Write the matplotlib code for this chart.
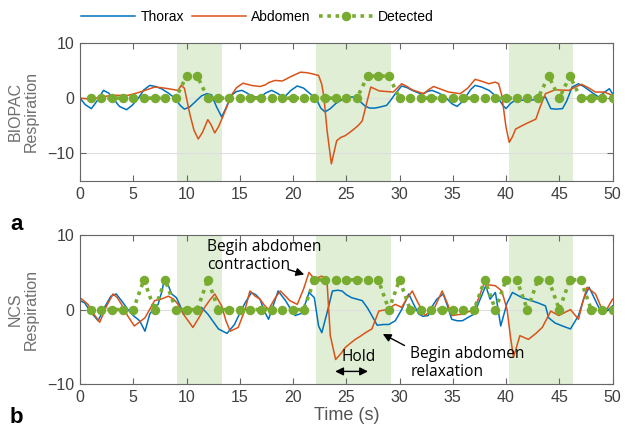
import matplotlib
matplotlib.use('Agg')
import matplotlib.pyplot as plt
import numpy as np

# colours (MATLAB-like defaults)
c_thorax = '#0072BD'
c_abdomen = '#D95319'
c_detect = '#77AC30'
c_span = '#e0eed6'

# breath-hold windows (s)
hold_windows = [(9.1, 13.3), (22.15, 29.2), (40.3, 46.3)]

# BIOPAC: thorax
biopac_thorax_t = [0.0, 0.5, 1.07, 1.6, 2.2, 2.7, 3.1, 3.7, 4.36, 4.9, 5.45, 6.0, 6.55, 7.1, 7.65, 8.3,
                   8.9, 9.4, 9.8, 10.3, 10.8, 11.4, 11.9, 12.35, 12.8, 13.3, 13.7, 14.2, 14.7, 15.2,
                   15.6, 16.0, 16.5, 16.9, 17.5, 18.0, 18.6, 19.1, 19.8, 20.4, 21.0, 21.6, 22.2, 22.6,
                   23.0, 23.5, 24.0, 24.5, 24.9, 25.4, 25.85, 26.3, 26.8, 27.2, 27.7, 28.2, 28.8, 29.2,
                   29.6, 30.2, 30.7, 31.2, 31.7, 32.1, 32.6, 33.05, 33.7, 34.3, 34.9, 35.4, 35.8, 36.2,
                   36.7, 37.1, 37.7, 38.4, 38.9, 39.3, 39.7, 40.0, 40.4, 40.9, 41.8, 42.8, 43.3, 43.7,
                   44.2, 44.7, 45.3, 45.7, 46.2, 46.8, 47.3, 47.8, 48.3, 48.7, 49.2, 49.7, 50.0]
biopac_thorax_v = [0.0, -1.2, -1.9, -0.5, 1.4, 0.9, 0.0, -1.5, -2.1, -1.3, -0.1, 1.5, 2.3, 2.1, 1.7, 0.9,
                   0.0, -1.3, -2.0, -1.6, -0.7, 0.4, 0.8, 0.6, -1.5, -3.4, -1.8, 0.5, 1.2, 1.4,
                   1.0, 0.5, 0.2, 0.2, 1.0, 1.4, 0.8, 0.0, 1.4, 2.2, 1.8, 0.8, -0.2, -1.8,
                   -2.5, -1.9, -1.0, -0.4, 0.0, 0.2, 0.2, -0.6, -1.5, -1.8, -1.8, -1.6, -1.3, -0.3,
                   0.8, 2.2, 1.9, 1.4, 1.0, 0.7, 1.2, 1.4, 0.9, 0.2, -1.0, -1.5, -0.8, 0.2,
                   1.6, 2.3, 2.0, 1.4, 0.6, -0.1, -1.3, -1.9, -1.0, -0.3, -0.4, -0.3, 0.0, 0.2,
                   -1.9, -2.0, -1.9, -0.5, 2.0, 2.6, 2.1, 1.4, 0.7, 0.2, 1.0, 1.7, 0.8]

# BIOPAC: abdomen
biopac_abd_t = [0.0, 1.07, 2.0, 3.0, 4.5, 5.3, 6.1, 7.0, 7.6, 8.3, 9.2, 9.5, 9.8, 10.0, 10.3, 10.7,
                11.1, 11.5, 12.0, 12.3, 12.65, 13.0, 13.4, 13.8, 14.2, 14.7, 15.3, 16.1, 16.9, 17.4,
                17.7, 18.3, 19.0, 19.8, 20.7, 21.3, 21.8, 22.4, 22.7, 22.9, 23.2, 23.6, 24.1, 24.5,
                24.9, 25.4, 25.85, 26.2, 26.5, 26.9, 27.3, 28.1, 29.4, 30.2, 30.7, 31.2, 31.8, 32.3,
                32.7, 33.2, 33.9, 34.6, 35.7, 36.4, 37.1, 37.8, 38.4, 39.0, 39.3, 39.6, 40.0, 40.3,
                40.6, 40.9, 41.8, 42.8, 43.2, 43.7, 44.6, 45.9, 46.5, 47.1, 47.8, 48.4, 49.2, 50.0]
biopac_abd_v = [0.0, -0.2, 0.2, 0.5, 0.5, 0.9, 1.4, 2.0, 1.9, 1.7, 1.4, 2.3, 1.8, 0.0, -2.8, -5.8,
                -7.4, -6.2, -3.9, -4.8, -6.3, -5.2, -3.4, -1.5, 0.5, 1.9, 2.7, 2.3, 2.1, 2.4,
                2.8, 3.2, 3.1, 3.9, 4.7, 4.6, 4.4, 4.1, 2.5, 0.2, -5.9, -11.9, -7.7, -7.1,
                -6.8, -6.1, -5.4, -4.8, -4.1, -1.0, 2.0, 1.3, 1.1, 2.6, 2.1, 1.5, 1.1, 0.8,
                1.5, 2.1, 1.6, 1.1, 0.8, 1.8, 3.4, 3.0, 2.6, 2.9, 2.6, 0.5, -5.3, -8.0,
                -7.0, -5.6, -4.7, -3.8, -1.6, 0.8, 1.5, 1.4, 2.0, 2.5, 1.8, 1.1, 1.1, 0.5]

# NCS: thorax
ncs_thorax_t = [0.0, 0.44, 1.0, 1.7, 2.3, 2.9, 3.4, 4.0, 4.5, 5.0, 5.6, 6.1, 6.55, 7.0, 7.33, 7.7,
                7.95, 8.3, 8.6, 9.05, 9.4, 9.7, 10.2, 10.6, 11.4, 12.0, 12.5, 13.0, 13.8, 14.5,
                15.0, 15.5, 16.1, 16.5, 16.9, 17.3, 17.7, 18.2, 18.6, 19.3, 19.8, 20.2, 20.8, 21.2,
                21.5, 22.0, 22.4, 22.7, 23.2, 23.7, 24.2, 24.6, 25.0, 25.5, 26.0, 26.5, 27.0, 27.4,
                27.9, 28.5, 29.0, 29.6, 30.2, 30.86, 31.3, 31.8, 32.2, 32.7, 33.1, 33.5, 34.1, 34.5,
                34.9, 35.4, 35.9, 36.5, 37.0, 37.6, 38.1, 38.5, 39.0, 39.5, 40.1, 40.6, 41.5, 42.4,
                43.0, 43.7, 44.0, 44.6, 45.3, 46.05, 46.8, 47.3, 47.8, 48.3, 48.7, 49.3, 50.0]
ncs_thorax_v = [1.2, 0.9, -0.3, -1.5, 0.3, 1.8, 2.1, 1.0, 0.0, -0.8, -1.5, -2.9, -0.6, 0.3, 0.7, 2.5,
                4.3, 3.2, 2.1, 1.6, 0.5, -0.6, -0.3, 0.0, 0.3, -0.6, -1.6, -2.6, -3.2, -2.0,
                -0.5, 0.9, 2.3, 2.0, 1.4, -0.2, -1.3, 0.8, 2.5, 1.2, 0.0, -0.8, -0.5, 1.0,
                2.3, 1.6, -2.2, -3.1, -0.4, 2.5, 2.6, 2.5, 2.0, 1.6, 1.4, 1.2, 0.2, -0.8,
                -2.1, -2.0, -2.0, -1.5, 0.0, 2.1, 0.8, -0.6, -0.9, -0.8, 0.5, 1.4, 2.1, 0.5,
                -1.3, -1.5, -1.5, -1.0, -0.6, 1.5, 3.2, 1.4, 2.3, -2.2, 0.9, 2.3, 1.6, 1.2,
                0.9, 0.5, -1.1, -1.8, -2.2, -2.6, -0.8, 1.5, 3.0, 1.5, 0.3, -0.4, 0.5]

# NCS: abdomen
ncs_abd_t = [0.0, 0.75, 1.3, 1.85, 2.5, 3.1, 3.5, 3.9, 4.5, 5.1, 6.1, 7.0, 7.6, 8.3, 8.8, 9.2,
             9.8, 10.6, 11.2, 11.7, 12.2, 12.65, 13.3, 13.7, 14.1, 14.85, 15.5, 15.95, 16.45, 16.9,
             17.3, 17.7, 18.3, 18.8, 19.3, 19.7, 20.4, 21.0, 21.5, 22.0, 22.7, 23.2, 23.5, 24.0,
             24.5, 24.9, 25.4, 25.85, 26.3, 26.8, 27.4, 27.7, 28.05, 28.8, 29.6, 30.2, 30.7, 31.2,
             31.7, 32.4, 33.3, 34.0, 34.5, 34.9, 35.9, 37.0, 37.5, 37.9, 38.5, 39.0, 39.6, 40.1,
             40.4, 40.7, 41.3, 42.1, 42.8, 43.4, 44.2, 44.95, 45.5, 46.05, 46.8, 47.2, 47.6, 48.4,
             49.2, 50.0]
ncs_abd_v = [1.6, 0.7, -0.6, -1.7, 0.5, 2.1, 1.6, 0.7, -0.9, -2.2, -1.1, 1.2, 1.4, 1.8, 1.4, 0.7,
             -0.8, -2.4, -1.0, 0.3, 1.3, 2.1, 0.5, -1.5, -2.9, -2.4, 0.0, 2.5, 1.8, 1.4,
             0.6, 0.0, 1.5, 2.5, 1.8, 1.2, 0.7, 2.8, 5.0, 4.1, 4.5, 3.6, -3.5, -6.7,
             -5.9, -5.1, -4.5, -4.0, -3.6, -3.1, -2.6, -1.5, -0.2, 0.0, 0.7, 0.3, 1.5, 2.5,
             1.0, -0.8, 0.3, 2.5, 0.8, -0.8, -0.6, 0.0, 1.8, 3.4, 3.3, 3.2, 2.5, 0.0,
             -3.5, -6.4, -3.5, -4.0, -3.2, -2.4, -0.2, -0.8, -0.4, 0.0, -1.3, 1.0, 3.0, 2.1,
             -0.6, 1.4]

# detection flags, one per second
detect_t = list(range(1, 51))
biopac_on = [10, 11, 27, 28, 29, 44, 46]
ncs_on = [6, 8, 12, 22, 23, 24, 25, 26, 27, 28, 30, 38, 40, 41, 43, 44, 46, 47]
biopac_detect = [4 if t in biopac_on else 0 for t in detect_t]
ncs_detect = [4 if t in ncs_on else 0 for t in detect_t]

plt.rcParams['font.family'] = ['Liberation Sans', 'DejaVu Sans']
tick_col = '#404040'
frame_col = '#666666'

fig = plt.figure(figsize=(6.28, 4.33), dpi=100)
ax1 = fig.add_axes([0.1274, 0.582, 0.848, 0.319])
ax2 = fig.add_axes([0.1274, 0.113, 0.848, 0.344])


def style_axis(ax, ylim, ylabel):
    for a, b in hold_windows:
        ax.axvspan(a, b, color=c_span, lw=0, zorder=0)
    ax.set_xlim(0, 50)
    ax.set_ylim(*ylim)
    ax.set_xticks(np.arange(0, 51, 5))
    ax.set_yticks([-10, 0, 10])
    ax.yaxis.grid(True, color='#dedede', lw=0.8, zorder=0.5)
    ax.set_axisbelow(True)
    ax.tick_params(direction='in', top=True, right=True, length=4, width=0.8,
                   labelsize=11.5, colors=frame_col, labelcolor=tick_col, pad=4)
    for s in ax.spines.values():
        s.set_color(frame_col)
        s.set_linewidth(0.8)
    ax.set_ylabel(ylabel, fontsize=11.5, color='#6e6e6e', labelpad=6, linespacing=1.1)


style_axis(ax1, (-15, 10), 'BIOPAC\nRespiration')
style_axis(ax2, (-10, 10), 'NCS\nRespiration')

dot_style = dict(color=c_detect, ls=(0, (1, 1.3)), lw=2.6, marker='o', ms=5.8,
                 mfc=c_detect, mec=c_detect, zorder=3)

l1, = ax1.plot(biopac_thorax_t, biopac_thorax_v, color=c_thorax, lw=1.1, zorder=2, label='Thorax')
l2, = ax1.plot(biopac_abd_t, biopac_abd_v, color=c_abdomen, lw=1.1, zorder=2, label='Abdomen')
l3, = ax1.plot(detect_t, biopac_detect, label='Detected', **dot_style)

ax2.plot(ncs_thorax_t, ncs_thorax_v, color=c_thorax, lw=1.1, zorder=2)
ax2.plot(ncs_abd_t, ncs_abd_v, color=c_abdomen, lw=1.1, zorder=2)
ax2.plot(detect_t, ncs_detect, **dot_style)

ax2.set_xlabel('Time (s)', fontsize=13, color='#555555', labelpad=2)

fig.legend(handles=[l1, l2, l3], loc='upper center', bbox_to_anchor=(0.41, 1.005),
           ncol=3, frameon=False, fontsize=10, handlelength=3.9, handletextpad=0.4,
           columnspacing=0.55, numpoints=1)

# panel letters
fig.text(0.016, 0.468, 'a', fontsize=16, fontweight='bold')
fig.text(0.016, 0.024, 'b', fontsize=16, fontweight='bold')

# annotations
ann_font = dict(family=['Open Sans', 'DejaVu Sans'], fontsize=11.2, color='black')
ax2.text(11.9, 8.4, 'Begin abdomen', va='center', ha='left', **ann_font)
ax2.text(11.9, 5.95, 'contraction', va='center', ha='left', **ann_font)
ax2.annotate('', xy=(21.3, 4.6), xytext=(19.3, 5.5),
             arrowprops=dict(arrowstyle='-|>', color='black', lw=1, mutation_scale=12))
ax2.text(31.0, -5.9, 'Begin abdomen', va='center', ha='left', **ann_font)
ax2.text(31.0, -8.4, 'relaxation', va='center', ha='left', **ann_font)
ax2.annotate('', xy=(28.2, -3.1), xytext=(30.7, -5.0),
             arrowprops=dict(arrowstyle='-|>', color='black', lw=1, mutation_scale=12))
ax2.text(26.2, -6.4, 'Hold', va='center', ha='center', **ann_font)
ax2.annotate('', xy=(23.7, -8.3), xytext=(27.3, -8.3),
             arrowprops=dict(arrowstyle='<|-|>', color='black', lw=1, mutation_scale=12))

fig.savefig('out.png', dpi=100)
